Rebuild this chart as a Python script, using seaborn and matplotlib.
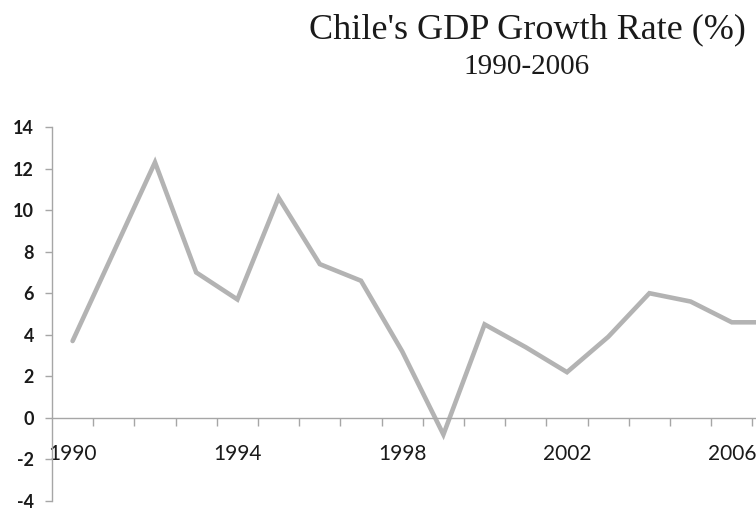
import matplotlib
matplotlib.use("Agg")
import matplotlib.pyplot as plt
import seaborn as sns
import pandas as pd
from matplotlib.ticker import FixedLocator, FixedFormatter

# Annual real GDP growth, Chile (%)
years = [1990, 1991, 1992, 1993, 1994, 1995, 1996, 1997, 1998,
         1999, 2000, 2001, 2002, 2003, 2004, 2005, 2006, 2007]
growth = [3.7, 8.0, 12.3, 7.0, 5.7, 10.6, 7.4, 6.6, 3.2,
          -0.8, 4.5, 3.4, 2.2, 3.9, 6.0, 5.6, 4.6, 4.6]
label_years = [1990, 1994, 1998, 2002, 2006]
y_ticks = [-4, -2, 0, 2, 4, 6, 8, 10, 12, 14]

title = "Chile's GDP Growth Rate (%)"
subtitle = "1990-2006"

df = pd.DataFrame({"year": years, "growth": growth})

sns.set_theme(style="white")
plt.rcParams["font.family"] = ["Lato", "DejaVu Sans"]

axis_grey = "#a6a6a6"
line_grey = "#b3b3b3"

fig = plt.figure(figsize=(7.56, 5.08), dpi=100)
ax = fig.add_axes([52 / 756, 1 - 501 / 508, (756 - 52) / 756, (501 - 127) / 508])

sns.lineplot(data=df, x="year", y="growth", ax=ax, color=line_grey,
             linewidth=3.3, solid_joinstyle="miter")

# categories sit between tick marks, ~41.2 px per year
ax.set_xlim(1989.5, 1989.5 + (756 - 52) / 41.2)
ax.set_ylim(-4, 14)

for side in ("top", "right"):
    ax.spines[side].set_visible(False)
ax.spines["bottom"].set_position(("data", 0))
ax.spines["bottom"].set_color(axis_grey)
ax.spines["left"].set_color(axis_grey)
ax.spines["bottom"].set_linewidth(1.0)
ax.spines["left"].set_linewidth(1.0)

# x: tick marks at category boundaries, labels at category centres
ax.xaxis.set_major_locator(FixedLocator(label_years))
ax.xaxis.set_major_formatter(FixedFormatter([str(y) for y in label_years]))
ax.xaxis.set_minor_locator(FixedLocator([y + 0.5 for y in years]))
ax.tick_params(axis="x", which="major", length=0, pad=19, labelsize=15,
               labelcolor="#1a1a1a")
ax.tick_params(axis="x", which="minor", length=6, width=1.0, color=axis_grey,
               direction="out", bottom=True)

ax.set_yticks(y_ticks)
ax.set_yticklabels([str(v) for v in y_ticks])
ax.tick_params(axis="y", length=5, width=1.0, color=axis_grey, direction="out",
               pad=8, labelsize=13, labelcolor="#1a1a1a", left=True)
for lbl in ax.get_yticklabels():
    lbl.set_fontweight("bold")

ax.set_xlabel("")
ax.set_ylabel("")
ax.grid(False)

fig.text(527 / 756, 1 - 38 / 508, title, ha="center", va="baseline",
         fontsize=26, family=["Liberation Serif"], color="#1a1a1a")
fig.text(527 / 756, 1 - 74 / 508, subtitle, ha="center", va="baseline",
         fontsize=21, family=["Liberation Serif"], color="#1a1a1a")

fig.savefig("out.png", dpi=100)
